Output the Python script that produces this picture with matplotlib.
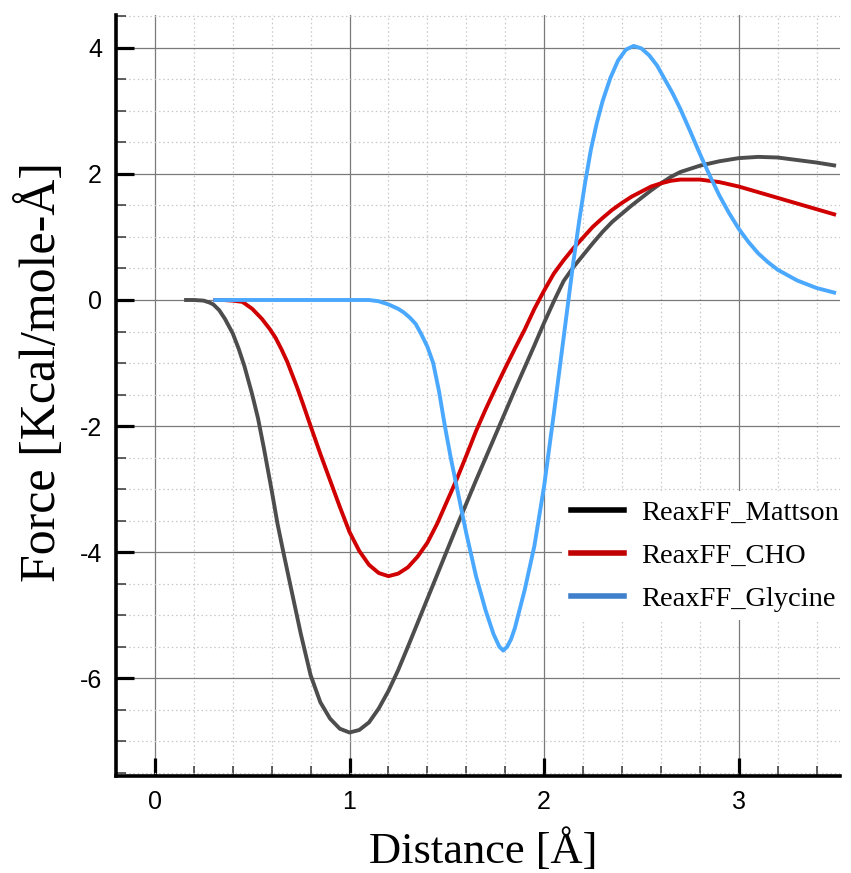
import matplotlib
matplotlib.use("Agg")
import matplotlib.pyplot as plt
from matplotlib.lines import Line2D
from matplotlib.ticker import MultipleLocator

plt.rcParams["axes.unicode_minus"] = False

# Force curves vs. interatomic distance for three ReaxFF parameter sets
mattson_x = [0.15, 0.20, 0.25, 0.28, 0.30, 0.33, 0.36, 0.40, 0.43, 0.46, 0.50, 0.53,
             0.56, 0.60, 0.63, 0.66, 0.70, 0.75, 0.80, 0.85, 0.90, 0.95, 1.00, 1.05,
             1.10, 1.15, 1.20, 1.25, 1.30, 1.35, 1.40, 1.45, 1.50, 1.55, 1.60, 1.65,
             1.70, 1.75, 1.80, 1.85, 1.90, 1.95, 2.00, 2.05, 2.10, 2.15, 2.20, 2.25,
             2.30, 2.35, 2.40, 2.45, 2.50, 2.55, 2.60, 2.65, 2.70, 2.80, 2.90, 3.00,
             3.10, 3.20, 3.30, 3.40, 3.50]
mattson_y = [0.00, 0.00, -0.01, -0.04, -0.07, -0.16, -0.30, -0.53, -0.77, -1.05, -1.50, -1.88,
             -2.35, -3.02, -3.55, -4.00, -4.58, -5.30, -5.95, -6.38, -6.64, -6.80, -6.86, -6.82,
             -6.70, -6.48, -6.20, -5.87, -5.50, -5.12, -4.74, -4.36, -3.98, -3.60, -3.23, -2.86,
             -2.50, -2.14, -1.78, -1.42, -1.07, -0.72, -0.36, -0.02, 0.30, 0.52, 0.71, 0.90,
             1.08, 1.24, 1.37, 1.50, 1.62, 1.74, 1.85, 1.95, 2.03, 2.13, 2.20, 2.25,
             2.27, 2.26, 2.22, 2.18, 2.13]

cho_x = [0.30, 0.35, 0.40, 0.45, 0.50, 0.55, 0.59, 0.62, 0.65, 0.68, 0.70, 0.73,
         0.76, 0.80, 0.85, 0.90, 0.95, 1.00, 1.05, 1.10, 1.15, 1.20, 1.25, 1.30,
         1.35, 1.40, 1.45, 1.50, 1.55, 1.60, 1.65, 1.70, 1.75, 1.80, 1.85, 1.90,
         1.95, 2.00, 2.05, 2.10, 2.15, 2.20, 2.25, 2.30, 2.35, 2.40, 2.45, 2.50,
         2.55, 2.60, 2.65, 2.70, 2.80, 2.90, 3.00, 3.10, 3.20, 3.30, 3.40, 3.50]
cho_y = [0.00, 0.00, -0.01, -0.03, -0.14, -0.30, -0.46, -0.60, -0.78, -0.98, -1.14, -1.38,
         -1.64, -2.00, -2.44, -2.86, -3.28, -3.68, -3.98, -4.20, -4.33, -4.38, -4.34, -4.24,
         -4.07, -3.85, -3.55, -3.20, -2.85, -2.47, -2.08, -1.73, -1.40, -1.08, -0.77, -0.47,
         -0.14, 0.15, 0.42, 0.63, 0.82, 0.99, 1.16, 1.30, 1.43, 1.54, 1.64, 1.72,
         1.80, 1.85, 1.89, 1.91, 1.91, 1.87, 1.80, 1.71, 1.62, 1.53, 1.44, 1.35]

glycine_x = [0.30, 0.50, 0.70, 0.90, 1.10, 1.15, 1.20, 1.25, 1.28, 1.31, 1.34, 1.37,
             1.40, 1.43, 1.46, 1.49, 1.52, 1.55, 1.60, 1.65, 1.70, 1.74, 1.77, 1.79,
             1.81, 1.83, 1.85, 1.90, 1.95, 2.00, 2.05, 2.10, 2.125, 2.15, 2.18, 2.21,
             2.24, 2.27, 2.30, 2.34, 2.38, 2.42, 2.46, 2.50, 2.54, 2.58, 2.62, 2.66,
             2.70, 2.75, 2.80, 2.85, 2.90, 2.95, 3.00, 3.05, 3.10, 3.15, 3.20, 3.30,
             3.40, 3.50]
glycine_y = [0.00, 0.00, 0.00, 0.00, 0.00, -0.02, -0.07, -0.14, -0.20, -0.28, -0.38, -0.55,
             -0.74, -1.00, -1.45, -2.00, -2.50, -2.95, -3.70, -4.38, -4.93, -5.30, -5.50, -5.56,
             -5.50, -5.38, -5.20, -4.60, -3.90, -2.95, -1.80, -0.60, 0.00, 0.60, 1.25, 1.85,
             2.38, 2.80, 3.15, 3.52, 3.80, 3.97, 4.03, 3.99, 3.88, 3.72, 3.50, 3.28,
             3.03, 2.68, 2.32, 1.98, 1.66, 1.38, 1.13, 0.92, 0.74, 0.60, 0.48, 0.31,
             0.19, 0.11]

labels = ["ReaxFF_Mattson", "ReaxFF_CHO", "ReaxFF_Glycine"]
x_ticks = [0, 1, 2, 3]
y_ticks = [-6, -4, -2, 0, 2, 4]

line_colors = ["#4d4d4d", "#d00000", "#4aa8ff"]
legend_colors = ["#000000", "#c00000", "#3f7fcc"]

fig = plt.figure(figsize=(8.51, 8.73), dpi=100)
ax = fig.add_axes([0.1363, 0.1111, 0.8507, 0.8717])

line_kw = dict(lw=2.8, solid_capstyle="butt", solid_joinstyle="round")
ax.plot(mattson_x, mattson_y, color=line_colors[0], zorder=3, **line_kw)
ax.plot(cho_x, cho_y, color=line_colors[1], zorder=3, **line_kw)
ax.plot(glycine_x, glycine_y, color=line_colors[2], zorder=4, **line_kw)

ax.set_xlim(-0.2, 3.52)
ax.set_ylim(-7.55, 4.52)
ax.set_xticks(x_ticks)
ax.set_yticks(y_ticks)
ax.xaxis.set_minor_locator(MultipleLocator(0.2))
ax.yaxis.set_minor_locator(MultipleLocator(0.5))

ax.grid(which="major", color="#7a7a7a", lw=0.9, ls="-", zorder=1)
ax.grid(which="minor", color="#c8c8c8", lw=0.9, ls=(0, (1.2, 2.2)), zorder=0)
ax.set_axisbelow(True)

for side in ("top", "right"):
    ax.spines[side].set_visible(False)
for side in ("left", "bottom"):
    ax.spines[side].set_linewidth(2.6)
    ax.spines[side].set_color("black")

ax.tick_params(which="major", direction="in", length=13, width=2.3, color="black",
               labelsize=18, pad=10)
ax.tick_params(which="minor", direction="in", length=7, width=1.1, color="#333333")
for lab in ax.get_xticklabels() + ax.get_yticklabels():
    lab.set_fontfamily("Liberation Sans")

ax.set_xlabel("Distance [Å]", family="Liberation Serif", fontsize=32)
ax.set_ylabel("Force [Kcal/mole-Å]", family="Liberation Serif", fontsize=36)
ax.xaxis.set_label_coords(0.507, -0.070)
ax.yaxis.set_label_coords(-0.069, 0.531)

handles = [Line2D([], [], color=c, lw=4) for c in legend_colors]
leg = ax.legend(handles, labels, loc="upper left", bbox_to_anchor=(0.597, 0.393),
                frameon=True, facecolor="white", edgecolor="none", framealpha=1.0,
                fancybox=False, handlelength=1.85, handletextpad=0.62, labelspacing=0.6,
                borderpad=0.3, prop={"family": "Liberation Serif", "size": 20.5})
leg.set_zorder(5)

fig.savefig("out.png", dpi=100)
